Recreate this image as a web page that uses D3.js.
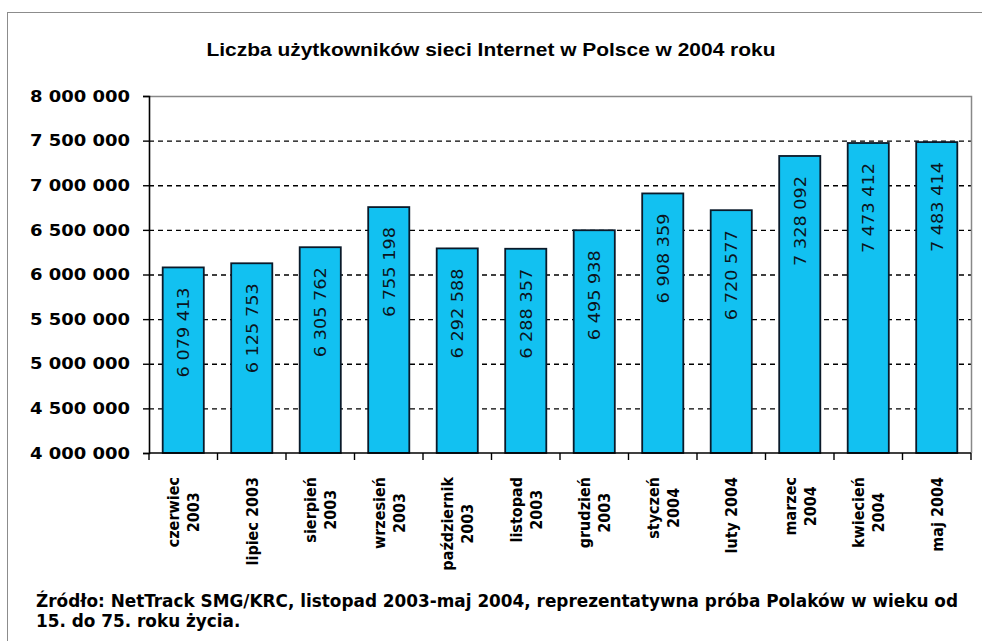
<!DOCTYPE html>
<html>
<head>
<meta charset="utf-8">
<script src="https://cdn.jsdelivr.net/npm/d3@7"></script>
<style>
  body { margin: 0; background: #fff; }
  svg { display: block; }
</style>
</head>
<body>
<svg id="chart" width="982" height="641"></svg>
<script>
// dane
var months = [
  ["czerwiec", "2003"], ["lipiec 2003"], ["sierpień", "2003"], ["wrzesień", "2003"],
  ["październik", "2003"], ["listopad", "2003"], ["grudzień", "2003"], ["styczeń", "2004"],
  ["luty 2004"], ["marzec", "2004"], ["kwiecień", "2004"], ["maj 2004"]
];
var users = [6079413, 6125753, 6305762, 6755198, 6292588, 6288357,
             6495938, 6908359, 6720577, 7328092, 7473412, 7483414];
var yTicks = [4000000, 4500000, 5000000, 5500000, 6000000, 6500000, 7000000, 7500000, 8000000];
var title = "Liczba użytkowników sieci Internet w Polsce w 2004 roku";
var source = ["Źródło: NetTrack SMG/KRC, listopad 2003-maj 2004, reprezentatywna próba Polaków w wieku od",
              "15. do 75. roku życia."];

var svg = d3.select("#chart");
var plotL = 149, plotR = 971, plotT = 96, plotB = 453;

var pl = d3.formatLocale({decimal: ",", thousands: " ", grouping: [3], currency: ["", ""]});
var fmt = pl.format(",");

var keys = months.map(function(m) { return m.join(" "); });
var x = d3.scaleBand().domain(keys).range([plotL, plotR]).paddingInner(0.4).paddingOuter(0.2);
var y = d3.scaleLinear().domain([4000000, 8000000]).range([plotB, plotT]);

//stretch text to a given width
function fit(sel, w) {
  sel.each(function() {
    var n = this.getComputedTextLength();
    if (n > 0) d3.select(this).attr("textLength", w).attr("lengthAdjust", "spacingAndGlyphs");
  });
}

// ramka
svg.append("rect").attr("x", 7.5).attr("y", 12.5).attr("width", 1100).attr("height", 800)
  .attr("fill", "#fff").attr("stroke", "#8c8c8c");

// tytul
var t = svg.append("text").attr("x", 491).attr("y", 56).attr("text-anchor", "middle")
  .style("font-family", "Liberation Sans, Arial, sans-serif").style("font-weight", "bold")
  .style("font-size", "19px").text(title);
fit(t, 569);

// linie siatki
svg.append("g").selectAll("line").data(yTicks.filter(function(d) { return d > 4000000 && d < 8000000; }))
  .enter().append("line")
  .attr("x1", plotL).attr("x2", plotR).attr("y1", function(d) { return y(d) + 0.5; }).attr("y2", function(d) { return y(d) + 0.5; })
  .attr("stroke", "#000").attr("stroke-width", 1.4).attr("stroke-dasharray", "5,4");

// obramowanie obszaru
svg.append("path").attr("d", "M" + plotL + "," + (plotT + 0.5) + "H" + (plotR + 0.5) + "V" + plotB)
  .attr("fill", "none").attr("stroke", "#888").attr("stroke-width", 1.5);

// slupki
svg.append("g").selectAll("rect").data(users).enter().append("rect")
  .attr("x", function(d, i) { return x(keys[i]); })
  .attr("y", function(d) { return y(d); })
  .attr("width", x.bandwidth())
  .attr("height", function(d) { return plotB - y(d); })
  .attr("fill", "#12c1f1").attr("stroke", "#0a1a2a").attr("stroke-width", 1.8);

// etykiety wartosci
var vl = svg.append("g").selectAll("text").data(users).enter().append("text")
  .attr("transform", function(d, i) {
    return "translate(" + (x(keys[i]) + x.bandwidth() / 2) + "," + (y(d) + 20) + ") rotate(-90)";
  })
  .attr("text-anchor", "end").attr("dy", "0.36em")
  .style("font-family", "DejaVu Sans Condensed, DejaVu Sans, sans-serif")
  .style("font-size", "16px").attr("fill", "#0b1420")
  .text(function(d) { return fmt(d); });
fit(vl, 90);

// os Y
var ya = svg.append("g").attr("transform", "translate(" + plotL + ",0)")
  .call(d3.axisLeft(y).tickValues(yTicks).tickSize(6).tickPadding(13).tickFormat(fmt));
ya.select(".domain").attr("stroke", "#000").attr("stroke-width", 1.6);
ya.selectAll(".tick line").attr("stroke", "#000").attr("stroke-width", 1.4);
ya.selectAll(".tick text").style("font-family", "DejaVu Sans, Verdana, sans-serif")
  .style("font-weight", "bold").style("font-size", "16px").attr("fill", "#000");
fit(ya.selectAll(".tick text"), 100);

// os X
var bounds = keys.map(function(k) { return x(k) - x.step() * x.paddingInner() / 2; });
bounds.push(plotR);
svg.append("line").attr("x1", plotL).attr("x2", plotR).attr("y1", plotB).attr("y2", plotB)
  .attr("stroke", "#000").attr("stroke-width", 1.6);
svg.append("g").selectAll("line").data(bounds).enter().append("line")
  .attr("x1", function(d) { return d; }).attr("x2", function(d) { return d; })
  .attr("y1", plotB).attr("y2", plotB + 7).attr("stroke", "#000").attr("stroke-width", 1.4);

var xl = svg.append("g").selectAll("g").data(months).enter().append("g");
xl.each(function(m, i) {
  var g = d3.select(this);
  var cx = x(keys[i]) + x.bandwidth() / 2;
  var tx = g.selectAll("text").data(m).enter().append("text")
    .attr("text-anchor", "middle").attr("dy", "0.36em")
    .style("font-family", "DejaVu Sans Condensed, DejaVu Sans, sans-serif")
    .style("font-weight", "bold").style("font-size", "16px").attr("fill", "#000")
    .text(function(d) { return d; });
  var len = 0;
  tx.each(function() { len = Math.max(len, this.getComputedTextLength()); });
  tx.attr("transform", function(d, j) {
    var off = (j - (m.length - 1) / 2) * 20;
    return "translate(" + (cx + off) + "," + (477 + len / 2) + ") rotate(-90)";
  });
});

// zrodlo
var src = svg.append("g").selectAll("text").data(source).enter().append("text")
  .attr("x", 36).attr("y", function(d, i) { return 607 + i * 20; })
  .style("font-family", "DejaVu Sans Condensed, DejaVu Sans, sans-serif").style("font-weight", "bold")
  .style("font-size", "17px").attr("fill", "#000")
  .text(function(d) { return d; });
var n0 = src.nodes()[0].getComputedTextLength();
var sx = 922 / n0;
src.each(function() {
  d3.select(this).attr("textLength", this.getComputedTextLength() * sx).attr("lengthAdjust", "spacingAndGlyphs");
});
</script>
</body>
</html>
